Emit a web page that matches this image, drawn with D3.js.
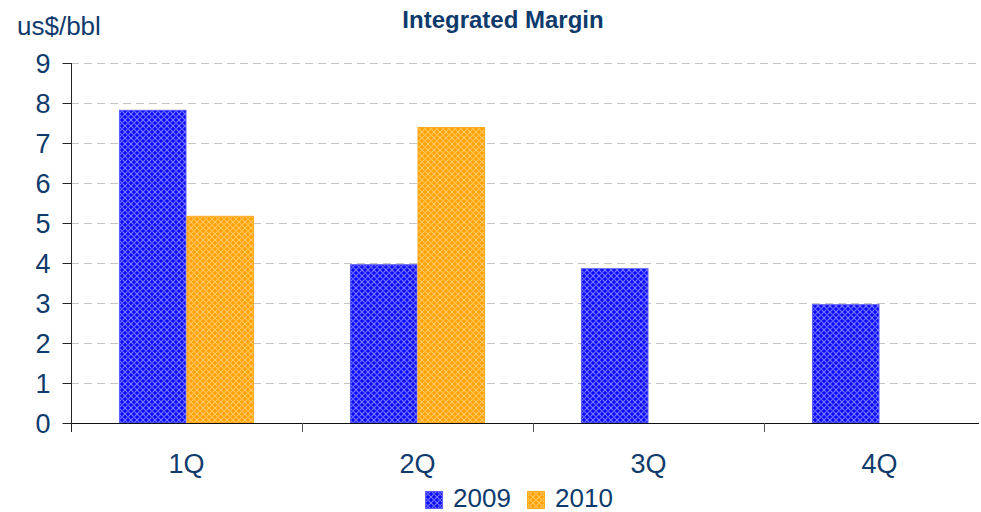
<!DOCTYPE html>
<html>
<head>
<meta charset="utf-8">
<script src="https://cdn.jsdelivr.net/npm/d3@7"></script>
<style>
    body { margin: 0; background: #fff; }
    text { font-family: "Liberation Sans", Arial, sans-serif; fill: #0f3b6c; }
</style>
</head>
<body>
<svg id="chart" width="981" height="512"></svg>
<script>
var quarters = ['1Q', '2Q', '3Q', '4Q'],
    seriesNames = ['2009', '2010'],
    values2009 = [7.83, 3.97, 3.87, 2.97],
    values2010 = [5.18, 7.4, null, null],
    yTicks = [0, 1, 2, 3, 4, 5, 6, 7, 8, 9];

(function () {
    'use strict';

    var svg = d3.select('#chart'),
        left = 71,
        right = 995,
        top = 63,
        bottom = 423,
        colors = {
            '2009': { base: '#0a0aff', light: '#7b7bff', edge: '#5b5bff' },
            '2010': { base: '#ffa200', light: '#ffc866', edge: '#ffaa22' }
        },
        defs = svg.append('defs'),
        x,
        xInner,
        y,
        rows;

    seriesNames.forEach(function (name, i) {
        var c = colors[name],
            p = defs.append('pattern')
                .attr('id', 'hatch' + i)
                .attr('patternUnits', 'userSpaceOnUse')
                .attr('width', 6)
                .attr('height', 6);

        p.append('rect').attr('width', 6).attr('height', 6).attr('fill', c.base);
        p.append('path')
            .attr('d', 'M0,0L6,6M6,0L0,6')
            .attr('stroke', c.light)
            .attr('stroke-width', 1.1);
        p.append('rect')
            .attr('x', 2.5).attr('y', 2.5).attr('width', 1).attr('height', 1)
            .attr('fill', c.base);
    });

    defs.append('clipPath').attr('id', 'plotClip')
        .append('rect').attr('x', 0).attr('y', 0).attr('width', 979).attr('height', 512);

    x = d3.scaleBand().domain(quarters).range([left, right]);
    xInner = d3.scaleBand().domain(seriesNames)
        .range([0, x.bandwidth()]).paddingOuter(0.71);
    y = d3.scaleLinear().domain([0, 9]).range([bottom, top]);

    // grid
    svg.append('g')
        .selectAll('line')
        .data(yTicks.slice(1))
        .enter()
        .append('line')
        .attr('x1', left)
        .attr('x2', 979)
        .attr('y1', function (d) { return y(d) + 0.5; })
        .attr('y2', function (d) { return y(d) + 0.5; })
        .attr('stroke', '#c4c4c4')
        .attr('stroke-dasharray', '8,5');

    rows = quarters.map(function (q, i) {
        return { q: q, vals: [values2009[i], values2010[i]] };
    });

    svg.append('g')
        .selectAll('g')
        .data(rows)
        .enter()
        .append('g')
        .attr('transform', function (d) { return 'translate(' + x(d.q) + ',0)'; })
        .selectAll('rect')
        .data(function (d) {
            return d.vals.map(function (v, i) { return { name: seriesNames[i], i: i, v: v }; })
                .filter(function (d) { return d.v !== null; });
        })
        .enter()
        .append('rect')
        .attr('x', function (d) { return xInner(d.name) + 0.5; })
        .attr('y', function (d) { return y(d.v) + 0.5; })
        .attr('width', xInner.bandwidth() - 1)
        .attr('height', function (d) { return y(0) - y(d.v) - 0.5; })
        .attr('fill', function (d) { return 'url(#hatch' + d.i + ')'; })
        .attr('stroke', function (d) { return colors[d.name].edge; })
        .attr('stroke-width', 1);

    // x axis
    var xAxis = svg.append('g').attr('clip-path', 'url(#plotClip)');

    xAxis.append('line')
        .attr('x1', left).attr('x2', 981)
        .attr('y1', bottom + 0.5).attr('y2', bottom + 0.5)
        .attr('stroke', '#111');

    xAxis.selectAll('line.tick')
        .data(quarters.slice(1))
        .enter()
        .append('line')
        .attr('class', 'tick')
        .attr('x1', function (d) { return Math.round(x(d)) + 0.5; })
        .attr('x2', function (d) { return Math.round(x(d)) + 0.5; })
        .attr('y1', bottom)
        .attr('y2', bottom + 9)
        .attr('stroke', '#555');

    svg.append('g')
        .selectAll('text')
        .data(quarters)
        .enter()
        .append('text')
        .attr('x', function (d) { return x(d) + x.bandwidth() / 2; })
        .attr('y', 473)
        .attr('text-anchor', 'middle')
        .style('font-size', '27px')
        .text(function (d) { return d; });

    // y axis
    var yAxis = svg.append('g')
        .attr('transform', 'translate(' + (left + 0.5) + ',0)')
        .call(d3.axisLeft(y).tickValues(yTicks).tickSize(9).tickPadding(12));

    yAxis.select('.domain').attr('d', 'M0,' + top + 'V' + (bottom + 9)).attr('stroke', '#222');
    yAxis.selectAll('.tick line').attr('stroke', '#222');
    yAxis.selectAll('.tick text')
        .style('font-size', '27px')
        .style('font-family', '"Liberation Sans", Arial, sans-serif')
        .attr('fill', '#0f3b6c')
        .attr('dy', '0.36em');

    // titles
    svg.append('text')
        .attr('x', 503)
        .attr('y', 28)
        .attr('text-anchor', 'middle')
        .style('font-size', '24px')
        .style('font-weight', 'bold')
        .text('Integrated Margin');

    svg.append('text')
        .attr('x', 17)
        .attr('y', 35)
        .style('font-size', '26px')
        .text('us$/bbl');

    // legend
    var legend = svg.append('g')
        .selectAll('g')
        .data(seriesNames)
        .enter()
        .append('g')
        .attr('transform', function (d, i) { return 'translate(' + (425 + i * 102) + ',491)'; });

    legend.append('rect')
        .attr('x', 0.5).attr('y', 0.5)
        .attr('width', 17).attr('height', 17)
        .attr('fill', function (d, i) { return 'url(#hatch' + i + ')'; })
        .attr('stroke', function (d) { return colors[d].edge; });

    legend.append('text')
        .attr('x', 28)
        .attr('y', 16)
        .style('font-size', '26px')
        .text(function (d) { return d; });
}());
</script>
</body>
</html>
